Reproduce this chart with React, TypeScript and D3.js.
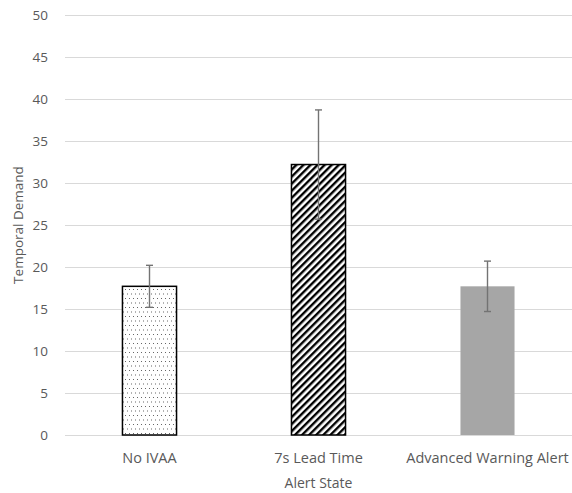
import React, { useRef, useEffect } from 'react';
import * as d3 from 'd3';

const categories = ['No IVAA', '7s Lead Time', 'Advanced Warning Alert'];
const means = [17.7, 32.2, 17.7];
const errors = [2.5, 6.5, 3.0];
const yTicks = [0, 5, 10, 15, 20, 25, 30, 35, 40, 45, 50];

const App = () => {
  const chartRef = useRef<SVGSVGElement>(null);

  useEffect(() => {
    const svg = d3.select(chartRef.current);
    svg.selectAll('*').remove();

    const width = 572;
    const height = 493;
    const margin = { top: 15, right: 0, bottom: 58, left: 65 };
    const font = '"Open Sans", "DejaVu Sans", sans-serif';
    const textColor = '#595959';

    const x = d3.scaleBand()
      .domain(categories)
      .range([margin.left, width - margin.right])
      .paddingInner(0.68)
      .paddingOuter(0.34);

    const y = d3.scaleLinear()
      .domain([0, 50])
      .range([height - margin.bottom, margin.top]);

    // Patterns
    const defs = svg.append('defs');
    const dots = defs.append('pattern')
      .attr('id', 'dots')
      .attr('patternUnits', 'userSpaceOnUse')
      .attr('width', 8)
      .attr('height', 9);
    dots.append('rect').attr('width', 8).attr('height', 9).attr('fill', '#fff');
    [[1, 1], [5, 1], [3, 5.5], [7, 5.5]].forEach(([px, py]) => {
      dots.append('rect')
        .attr('x', px).attr('y', py)
        .attr('width', 1).attr('height', 1)
        .attr('fill', '#666');
    });

    const hatch = defs.append('pattern')
      .attr('id', 'hatch')
      .attr('patternUnits', 'userSpaceOnUse')
      .attr('width', 5)
      .attr('height', 5)
      .attr('patternTransform', 'rotate(45)');
    hatch.append('rect').attr('width', 5).attr('height', 5).attr('fill', '#fff');
    hatch.append('rect').attr('x', 0).attr('y', 0).attr('width', 2.4).attr('height', 5).attr('fill', '#000');

    // Gridlines
    svg.append('g')
      .selectAll('line')
      .data(yTicks)
      .enter().append('line')
      .attr('x1', margin.left)
      .attr('x2', width)
      .attr('y1', d => y(d) + 0.5)
      .attr('y2', d => y(d) + 0.5)
      .attr('stroke', '#d9d9d9')
      .attr('stroke-width', 1);

    // Y tick labels
    svg.append('g')
      .selectAll('text')
      .data(yTicks)
      .enter().append('text')
      .attr('x', 48)
      .attr('y', d => y(d))
      .attr('dy', '0.35em')
      .attr('text-anchor', 'end')
      .attr('font-family', font)
      .attr('font-size', 13.5)
      .attr('fill', textColor)
      .text(d => d);

    // Bars
    const fills = ['url(#dots)', 'url(#hatch)', '#a6a6a6'];
    const strokes = ['#000', '#000', 'none'];
    svg.append('g')
      .selectAll('rect')
      .data(categories)
      .enter().append('rect')
      .attr('x', d => x(d)!)
      .attr('y', (d, i) => y(means[i]))
      .attr('width', x.bandwidth())
      .attr('height', (d, i) => y(0) - y(means[i]))
      .attr('fill', (d, i) => fills[i])
      .attr('stroke', (d, i) => strokes[i])
      .attr('stroke-width', 1.5);

    // Error bars
    const err = svg.append('g')
      .attr('stroke', '#737373')
      .attr('stroke-width', 1.4);
    categories.forEach((c, i) => {
      const cx = x(c)! + x.bandwidth() / 2;
      const top = y(means[i] + errors[i]);
      const bot = y(means[i] - errors[i]);
      err.append('line').attr('x1', cx).attr('x2', cx).attr('y1', top).attr('y2', bot);
      err.append('line').attr('x1', cx - 3.5).attr('x2', cx + 3.5).attr('y1', top).attr('y2', top);
      err.append('line').attr('x1', cx - 3.5).attr('x2', cx + 3.5).attr('y1', bot).attr('y2', bot);
    });

    // X labels
    svg.append('g')
      .selectAll('text')
      .data(categories)
      .enter().append('text')
      .attr('x', d => x(d)! + x.bandwidth() / 2)
      .attr('y', 463)
      .attr('text-anchor', 'middle')
      .attr('font-family', font)
      .attr('font-size', 14.5)
      .attr('fill', textColor)
      .text(d => d);

    // Axis titles
    svg.append('text')
      .attr('x', (margin.left + width) / 2)
      .attr('y', 488)
      .attr('text-anchor', 'middle')
      .attr('font-family', font)
      .attr('font-size', 14)
      .attr('fill', textColor)
      .text('Alert State');

    svg.append('text')
      .attr('transform', `translate(23,${y(25)}) rotate(-90)`)
      .attr('text-anchor', 'middle')
      .attr('font-family', font)
      .attr('font-size', 13.5)
      .attr('fill', textColor)
      .text('Temporal Demand');
  }, []);

  return (
    <svg
      ref={chartRef}
      width={572}
      height={493}
      style={{ position: 'absolute', left: 0, top: 0, background: '#fff' }}
    />
  );
};

export default App;
